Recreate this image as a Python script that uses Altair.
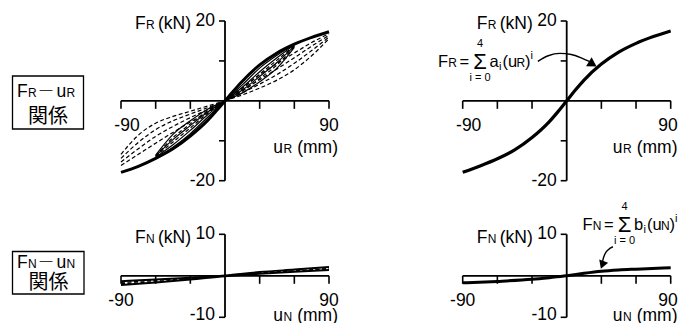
import altair as alt
import pandas as pd

# ---------------- values ----------------
# F_R - u_R backbone (envelope) and fitted polynomial curve
u_env = [-90, -75, -60, -45, -30, -15, -7.5, 0, 7.5, 15, 30, 45, 60, 75, 90]
F_env_loops = [-17.9, -16.4, -14.4, -12.0, -8.8, -4.9, -2.5, 0, 2.5, 4.9, 9.0, 12.0, 14.2, 15.9, 17.3]
F_fit = [-17.9, -16.3, -14.5, -12.3, -9.2, -5.2, -2.7, 0, 2.7, 5.2, 9.2, 12.2, 14.4, 16.1, 17.5]

# large amplitude (+/-90 mm) dashed branches
u_pos90 = [0, 15, 30, 45, 60, 75, 90]
F_dash_pos = [
    [0, 1.5, 3.2, 5.2, 7.8, 11.3, 15.6],
    [0, 2.0, 4.2, 6.6, 9.4, 12.6, 16.0],
    [0, 2.6, 5.3, 8.0, 10.8, 13.7, 16.4],
    [0, 3.3, 6.5, 9.4, 12.0, 14.6, 16.8],
]
u_neg90 = [-90, -75, -60, -45, -30, -15, 0]
F_dash_neg = [
    [-13.4, -8.6, -5.6, -3.9, -2.6, -1.3, 0],
    [-14.4, -10.4, -7.2, -5.0, -3.3, -1.7, 0],
    [-15.3, -12.0, -8.9, -6.4, -4.2, -2.2, 0],
    [-16.2, -13.4, -10.6, -7.9, -5.3, -2.8, 0],
]
# +/-60 mm loops
u_pos60 = [0, 15, 30, 45, 60]
F_solid60_pos = [[0, 2.0, 4.8, 8.2, 13.4], [0, 2.7, 6.1, 9.6, 13.7],
                 [0, 3.4, 7.3, 10.8, 14.0], [0, 4.0, 8.2, 11.4, 14.1]]
F_dash60_pos = [[0, 2.4, 5.6, 9.0, 13.6], [0, 3.0, 6.7, 10.2, 13.8]]
u_neg60 = [-60, -45, -30, -15, 0]
F_solid60_neg = [[-13.6, -8.4, -5.0, -2.1, 0], [-13.8, -9.7, -6.2, -2.8, 0],
                 [-14.1, -11.0, -7.4, -3.5, 0], [-14.3, -11.6, -8.2, -4.1, 0]]
F_dash60_neg = [[-13.8, -9.2, -5.8, -2.5, 0], [-14.0, -10.3, -6.8, -3.1, 0]]

# F_N - u_N
u_N = [-90, -60, -30, 0, 30, 60, 90]
F_N_solid = [[-1.3, -0.9, -0.45, 0.1, 0.9, 1.5, 2.1], [-2.2, -1.6, -0.9, -0.1, 0.5, 1.0, 1.4]]
F_N_dash = [[-1.6, -1.1, -0.6, 0.0, 0.7, 1.2, 1.8], [-1.9, -1.4, -0.75, 0.0, 0.6, 1.1, 1.6]]
u_N_fit = [-90, -60, -30, -15, 0, 15, 30, 45, 60, 90]
F_N_fit = [-1.7, -1.35, -0.85, -0.45, 0, 0.6, 1.1, 1.4, 1.6, 1.95]

# annotation arrows (data units of their panels)
arrowR_u = [-25, -16, -6, 4, 13, 20]
arrowR_F = [9.9, 11.3, 11.9, 11.6, 10.7, 9.8]
arrowR_head = (22.5, 9.2)
arrowN_u = [31, 31.5, 33, 36, 40]
arrowN_F = [3.4, 4.0, 5.2, 6.3, 7.0]
arrowN_head = (30.8, 2.6)

# axes
x_ticks = [-90, -60, -30, 30, 60, 90]
yR_ticks = [-20, -10, 10, 20]
yN_ticks = [-10, 10]
yR_domain = [-20, 20]
yN_domain = [-10, 10]

# ---------------- layout / styles ----------------
SANS = "Liberation Sans, Arial, sans-serif"
CJK = "Noto Sans CJK JP"
FS = 17.5
FF = 16.5   # formula text
SUB = 12
SMALL = 11
BLACK = "black"

def P(v):  # page pixel -> chart pixel (page margin 8px)
    return v - 8

LX = [P(121), P(329)]
RX = [P(462.7), P(670.7)]
TY = [P(180.7), P(21)]
BY = [P(317.3), P(234.3)]

DUMMY = pd.DataFrame({"a": [0]})


def long_df(xlists, flists, tag):
    rows = []
    for k, (xs, fs) in enumerate(zip(xlists, flists)):
        for x, f in zip(xs, fs):
            rows.append({"x": x, "F": f, "s": f"{tag}{k}"})
    return pd.DataFrame(rows)


def xsc(r):
    return alt.Scale(domain=[-90, 90], range=r, nice=False, zero=False)


def ysc(d, r):
    return alt.Scale(domain=d, range=r, nice=False, zero=False)


def lines(df, xs, ys, width, dash=None):
    kw = dict(stroke=BLACK, strokeWidth=width, interpolate="monotone", strokeCap="butt")
    if dash:
        kw["strokeDash"] = dash
    return alt.Chart(df).mark_line(**kw).encode(
        x=alt.X("x:Q", scale=xs, axis=None),
        y=alt.Y("F:Q", scale=ys, axis=None),
        detail="s:N",
        order="x:Q",
    )


def T(text, x, y, size=FS, align="left", font=SANS, baseline="alphabetic"):
    return alt.Chart(DUMMY).mark_text(
        text=text, align=align, baseline=baseline, font=font,
        fontSize=size, color=BLACK,
    ).encode(x=alt.value(P(x)), y=alt.value(P(y)))


def axes(xs, ys, ydom, yticks, ylab_hi, ylab_lo, neg_dx, pos_dx, pos_align, lo_dy):
    L = []
    ax = pd.DataFrame({"x": [-90, 0], "x2": [90, 0], "y": [0, ydom[0]], "y2": [0, ydom[1]]})
    L.append(alt.Chart(ax).mark_rule(stroke=BLACK, strokeWidth=1.8).encode(
        x=alt.X("x:Q", scale=xs, axis=None), x2="x2:Q",
        y=alt.Y("y:Q", scale=ys, axis=None), y2="y2:Q"))
    xt = pd.DataFrame({"x": x_ticks, "y": [0] * len(x_ticks)})
    L.append(alt.Chart(xt).mark_tick(orient="vertical", size=8, thickness=1.6,
                                     yOffset=4, color=BLACK, opacity=1).encode(
        x=alt.X("x:Q", scale=xs, axis=None), y=alt.Y("y:Q", scale=ys, axis=None)))
    yt = pd.DataFrame({"x": [0] * len(yticks), "y": yticks})
    L.append(alt.Chart(yt).mark_tick(orient="horizontal", size=6, thickness=1.6,
                                     xOffset=-3, color=BLACK, opacity=1).encode(
        x=alt.X("x:Q", scale=xs, axis=None), y=alt.Y("y:Q", scale=ys, axis=None)))
    # tick labels
    L.append(alt.Chart(pd.DataFrame({"x": [-90], "y": [0], "t": ["-90"]})).mark_text(
        align="center", baseline="alphabetic", dy=30, dx=neg_dx, font=SANS, fontSize=FS, color=BLACK).encode(
        x=alt.X("x:Q", scale=xs, axis=None), y=alt.Y("y:Q", scale=ys, axis=None), text="t:N"))
    L.append(alt.Chart(pd.DataFrame({"x": [90], "y": [0], "t": ["90"]})).mark_text(
        align=pos_align, baseline="alphabetic", dy=30, dx=pos_dx, font=SANS, fontSize=FS, color=BLACK).encode(
        x=alt.X("x:Q", scale=xs, axis=None), y=alt.Y("y:Q", scale=ys, axis=None), text="t:N"))
    L.append(alt.Chart(pd.DataFrame({"x": [0], "y": [ydom[1]], "t": [ylab_hi]})).mark_text(
        align="right", baseline="middle", dx=-10, font=SANS, fontSize=FS, color=BLACK).encode(
        x=alt.X("x:Q", scale=xs, axis=None), y=alt.Y("y:Q", scale=ys, axis=None), text="t:N"))
    L.append(alt.Chart(pd.DataFrame({"x": [0], "y": [ydom[0]], "t": [ylab_lo]})).mark_text(
        align="right", baseline="middle", dx=-10, dy=lo_dy, font=SANS, fontSize=FS, color=BLACK).encode(
        x=alt.X("x:Q", scale=xs, axis=None), y=alt.Y("y:Q", scale=ys, axis=None), text="t:N"))
    return L


def axis_titles(dx, top_base, sym, bottom_base, right_edge):
    # F_sym (kN) near the top of the y axis, u_sym (mm) under the right end
    r = right_edge
    return [
        T("F", 135 + dx, top_base), T(sym, 146 + dx, top_base, SUB), T("(kN)", 158 + dx, top_base),
        T("u", r - 55, bottom_base, align="right"), T(sym, r - 54.5, bottom_base, SUB),
        T("(mm)", r, bottom_base, align="right"),
    ]


def formula(x0, base, sym, coef):
    # F_sym = sum_{i=0}^{4} coef_i (u_sym)^i, laid out piece by piece
    sx = x0 + 42
    return [
        T("F", x0, base, FF), T(sym, x0 + 10.3, base, SUB), T("=", x0 + 21.5, base, FF),
        T("Σ", sx, base + 2, 22, align="center"), T("4", sx, base - 20, SMALL, align="center"),
        T("i = 0", sx, base + 13.5, SMALL, align="center"),
        T(coef, x0 + 51.5, base, FF), T("i", x0 + 61, base + 3, SMALL),
        T("(u", x0 + 64.5, base, FF), T(sym, x0 + 78.5, base, SUB),
        T(")", x0 + 87, base, FF), T("i", x0 + 92.5, base - 8, SMALL),
    ]


layers = []

# ---- top-left: hysteresis loops ----
xs, ys = xsc(LX), ysc(yR_domain, TY)
layers += axes(xs, ys, yR_domain, yR_ticks, "20", "-20", 6, 0, "center", 0)
dash_df = pd.concat([
    long_df([u_pos90] * 4, F_dash_pos, "dp"),
    long_df([u_neg90] * 4, F_dash_neg, "dn"),
    long_df([u_pos60] * 2, F_dash60_pos, "sp"),
    long_df([u_neg60] * 2, F_dash60_neg, "sn"),
])
layers.append(lines(dash_df, xs, ys, 1.2, [4, 2.5]))
solid_df = pd.concat([
    long_df([u_pos60] * 4, F_solid60_pos, "Sp"),
    long_df([u_neg60] * 4, F_solid60_neg, "Sn"),
])
layers.append(lines(solid_df, xs, ys, 1.2))
layers.append(lines(long_df([u_env], [F_env_loops], "env"), xs, ys, 3.0))
layers += axis_titles(0, 28.5, "R", 153, 338)

# ---- top-right: fitted curve ----
xs, ys = xsc(RX), ysc(yR_domain, TY)
layers += axes(xs, ys, yR_domain, yR_ticks, "20", "-20", 6, 7, "right", 0)
layers.append(lines(long_df([u_env], [F_fit], "fit"), xs, ys, 3.2))
layers.append(lines(long_df([arrowR_u], [arrowR_F], "arr"), xs, ys, 1.4))
layers.append(alt.Chart(pd.DataFrame({"x": [arrowR_head[0]], "F": [arrowR_head[1]]})).mark_point(
    shape="triangle-right", filled=True, size=110, angle=32, color=BLACK, opacity=1).encode(
    x=alt.X("x:Q", scale=xs, axis=None), y=alt.Y("F:Q", scale=ys, axis=None)))
layers += axis_titles(341.7, 28.5, "R", 153, 677.5)
layers += formula(438, 67, "R", "a")

# ---- bottom-left: F_N loops ----
xs, ys = xsc(LX), ysc(yN_domain, BY)
layers += axes(xs, ys, yN_domain, yN_ticks, "10", "-10", 0, 0, "center", -2.5)
layers.append(lines(long_df([u_N] * 2, F_N_dash, "nd"), xs, ys, 1.2, [4, 2.5]))
layers.append(lines(long_df([u_N] * 2, F_N_solid, "ns"), xs, ys, 2.0))
layers += axis_titles(0, 243, "N", 320.5, 338)

# ---- bottom-right: F_N fitted ----
xs, ys = xsc(RX), ysc(yN_domain, BY)
layers += axes(xs, ys, yN_domain, yN_ticks, "10", "-10", 0, 7, "right", -2.5)
layers.append(lines(long_df([u_N_fit], [F_N_fit], "nfit"), xs, ys, 3.0))
layers.append(lines(long_df([arrowN_u], [arrowN_F], "narr"), xs, ys, 1.4))
layers.append(alt.Chart(pd.DataFrame({"x": [arrowN_head[0]], "F": [arrowN_head[1]]})).mark_point(
    shape="triangle-down", filled=True, size=90, angle=20, color=BLACK, opacity=1).encode(
    x=alt.X("x:Q", scale=xs, axis=None), y=alt.Y("F:Q", scale=ys, axis=None)))
layers += axis_titles(341.7, 243, "N", 320.5, 677.5)
layers += formula(582.5, 230, "N", "b")

# ---- left label boxes ----
def box(x0, y0, x1, y1):
    return alt.Chart(DUMMY).mark_rect(filled=False, stroke=BLACK, strokeWidth=1.3).encode(
        x=alt.value(P(x0)), x2=alt.value(P(x1)), y=alt.value(P(y0)), y2=alt.value(P(y1)))


def box_label(y_base, sym):
    return [
        T("F", 17, y_base), T(sym, 28, y_base, SUB),
        T("―", 38.5, y_base - 1, 15, font=CJK),
        T("u", 56.5, y_base), T(sym, 66.5, y_base, SUB),
    ]

layers += [box(12.5, 76, 83.5, 129)] + box_label(97, "R") + [
    T("関係", 48, 123, 20, align="center", font=CJK)]
layers += [box(12.5, 251.5, 84, 294)] + box_label(268, "N") + [
    T("関係", 48.5, 289, 20, align="center", font=CJK)]

chart = alt.layer(*layers).resolve_scale(x="independent", y="independent").properties(
    width=670, height=315, autosize=alt.AutoSizeParams(type="none"), padding=0,
).configure_view(stroke=None)

chart.save("out.html", embed_options={"renderer": "svg", "actions": False})
